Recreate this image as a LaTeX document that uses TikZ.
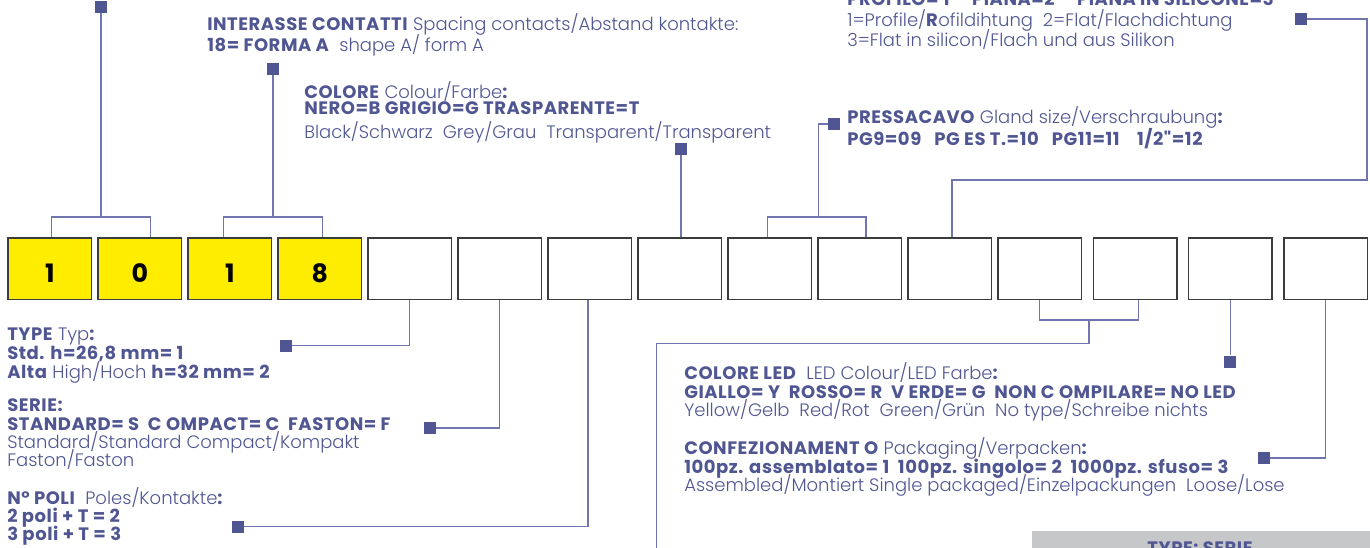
\documentclass[tikz,border=0pt]{standalone}
\usepackage{fontspec}
\newfontfamily\refsans{Poppins}[UprightFont={* Light},BoldFont={* Bold},BoldFeatures={LetterSpace=3}]
\usetikzlibrary{matrix}
\definecolor{refblue}{RGB}{80,86,146}
\definecolor{linkblue}{RGB}{112,117,175}
\definecolor{codeyellow}{RGB}{255,237,0}
\definecolor{boxgray}{RGB}{60,60,60}
\definecolor{tablegray}{RGB}{198,199,201}

\tikzset{
  notetext/.style={font={\refsans\fontsize{13.5}{#1}\selectfont\lineskiplimit=-50pt},text=refblue,inner sep=0pt,anchor=base west,align=left},
  sqtag/.style={fill=refblue,minimum size=9pt,inner sep=0pt},
  link/.style={draw=linkblue,line width=0.9pt},
}

\begin{document}
\begin{tikzpicture}[x=0.75pt,y=-0.75pt]
        \useasboundingbox (0,0) rectangle (1370,547);
        \clip (0,0) rectangle (1370,547);
        \matrix(code)[matrix of nodes,nodes in empty cells,ampersand replacement=\&,column sep=3.75pt,inner sep=0pt,anchor=north west,
          nodes={draw=boxgray,line width=1.1pt,minimum width=62.65pt,minimum height=46.15pt,inner sep=0pt,text height=21pt,text depth=0pt,font=\refsans\fontsize{19}{19}\selectfont\bfseries}] at (7,237) {
        |[fill=codeyellow]|1\&|[fill=codeyellow]|0\&|[fill=codeyellow]|1\&|[fill=codeyellow]|8\&\&\&\&\&\&\&\&\&[4pt]\&[4pt]\&[4pt]\\
        };
        % squares at the end of each connector
        \node[sqtag] (tagA) at (101,7) {};
        \node[sqtag] (tagB) at (273,69) {};
        \node[sqtag] (tagC) at (681,148.5) {};
        \node[sqtag] (tagD) at (834,124) {};
        \node[sqtag] (tagE) at (1301,19) {};
        \node[sqtag] (tagF) at (285.5,345.5) {};
        \node[sqtag] (tagG) at (430,428) {};
        \node[sqtag] (tagH) at (238,526.5) {};
        \node[sqtag] (tagJ) at (1229.5,361.7) {};
        \node[sqtag] (tagK) at (1264,458) {};
        \coordinate (brA) at (101,217);
        \coordinate (brB) at (273,217);
        \coordinate (brD) at (818.3,217);
        \coordinate (elbE) at (1367,180);
        \coordinate (brI) at (1089,320);
        \coordinate (elbI) at (1089,343.3);
        \coordinate (ledEnd) at (656.3,552);
        % connectors above the code
        \draw[link] (tagA) -- (brA);
        \draw[link] ([xshift=1.35pt]code-1-1.north) |- (brA) -| ([xshift=7.9pt]code-1-2.north);
        \draw[link] (tagB) -- (brB);
        \draw[link] ([xshift=-4.65pt]code-1-3.north) |- (brB) -| ([xshift=2.1pt]code-1-4.north);
        \draw[link] (tagC) -- (tagC |- code-1-8.north);
        \draw[link] (tagD) -| (brD);
        \draw[link] ([xshift=-1.65pt]code-1-9.north) |- (brD) -| ([xshift=4.65pt]code-1-10.north);
        \draw[link] (tagE) -| (elbE) -| ([xshift=1.65pt]code-1-11.north);
        % connectors below the code
        \draw[link] (code-1-5.south) |- (tagF);
        \draw[link] (code-1-6.south) |- (tagG);
        \draw[link] ([xshift=-1.35pt]code-1-7.south) |- (tagH);
        \draw[link] (code-1-12.south) |- (brI) -| ([xshift=2.5pt]code-1-13.south);
        \draw[link] (brI) -- (elbI) -| (ledEnd);
        \draw[link] (code-1-14.south) -- (code-1-14.south |- tagJ.north);
        \draw[link] (code-1-15.south) |- (tagK);
        % texts (placed by the baseline of their last line)
        \node[notetext=16.1pt] (interasse) at (207,51.5) {\textbf{INTERASSE CONTATTI} Spacing contacts/Abstand kontakte:\\\textbf{18= FORMA A}\ \ shape A/ form A};
        \node[notetext=12.5pt] (colore) at (304,138.3) {\textbf{COLORE} Colour/Farbe\textbf{:}\\\textbf{NERO=B GRIGIO=G TRASPARENTE=T}\\[5pt]Black/Schwarz\ \ Grey/Grau\ \ Transparent/Transparent};
        \node[notetext=15.4pt] (profilo) at (847,46.7) {\textbf{PROFILO= 1\quad\ PIANA=2\quad\ PIANA IN SILICONE=3}\\1=Profile/\textbf{R}ofildihtung\ \ 2=Flat/Flachdichtung\\3=Flat in silicon/Flach und aus Silikon};
        \node[notetext=16.3pt] (pressacavo) at (847,145) {\textbf{PRESSACAVO} Gland size/Verschraubung\textbf{:}\\\textbf{PG9=09\ \ \ PG ES T.=10\ \ \ PG11=11\ \ \ \ 1/2"=12}};
        \node[notetext=14pt] (type) at (7,378.3) {\textbf{TYPE} Typ\textbf{:}\\\textbf{Std. h=26,8 mm= 1}\\\textbf{Alta} High/Hoch \textbf{h=32 mm= 2}};
        \node[notetext=13.75pt] (serie) at (7,466.7) {\textbf{SERIE:}\\\textbf{STANDARD= S\ \ C OMPACT= C\ \ FASTON= F}\\Standard/Standard Compact/Kompakt\\Faston/Faston};
        \node[notetext=13.75pt] (poli) at (7,540.7) {\textbf{N° POLI}\ \ Poles/Kontakte\textbf{:}\\\textbf{2 poli + T = 2}\\\textbf{3 poli + T = 3}};
        \node[notetext=14pt] (led) at (684,416.7) {\textbf{COLORE LED}\ \ LED Colour/LED Farbe\textbf{:}\\\textbf{GIALLO= Y\ \ ROSSO= R\ \ V ERDE= G\ \ NON C OMPILARE= NO LED}\\Yellow/Gelb\ \ Red/Rot\ \ Green/Grün\ \ No type/Schreibe nichts};
        \node[notetext=14pt] (confez) at (684,491.7) {\textbf{CONFEZIONAMENT O} Packaging/Verpacken\textbf{:}\\\textbf{100pz. assemblato= 1\ \ 100pz. singolo= 2\ \ 1000pz. sfuso= 3}\\Assembled/Montiert Single packaged/Einzelpackungen\ \ Loose/Lose};
        % table heading, cut by the lower edge
        \fill[tablegray] (1032,531) rectangle (1375,560);
        \node[font=\refsans\fontsize{13.5}{15}\selectfont\bfseries,text=refblue,inner sep=0pt,anchor=base] (tablehead) at (1200,554) {TYPE: SERIE};
      \end{tikzpicture}
\end{document}
